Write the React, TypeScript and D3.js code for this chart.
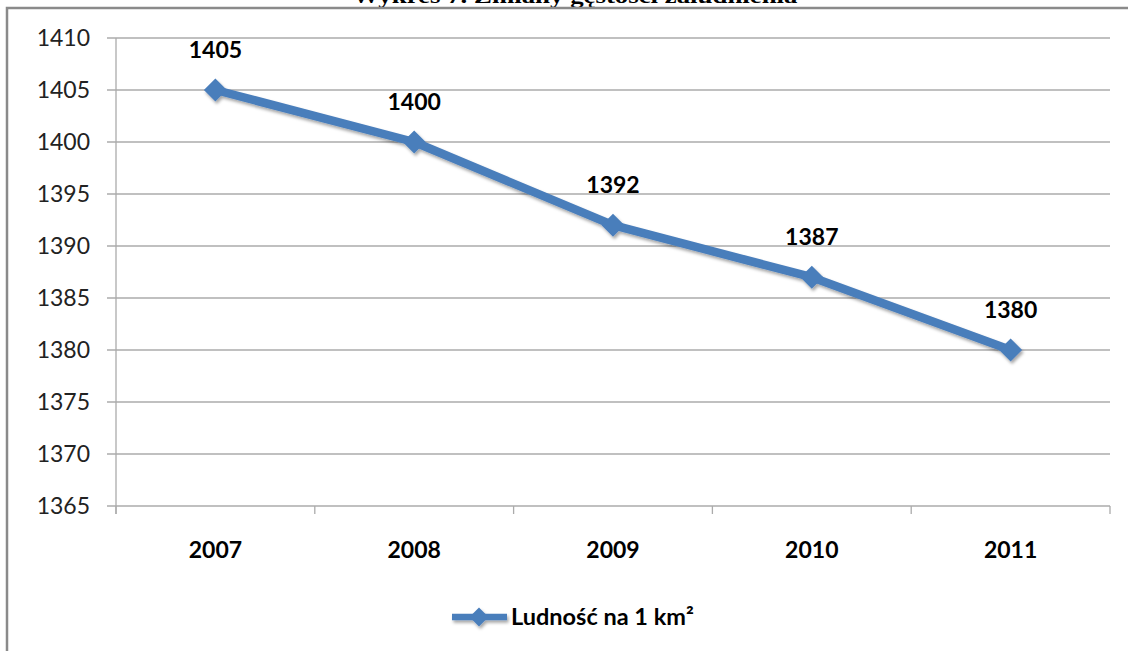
import React from "react";
import * as d3 from "d3";

const years = ["2007", "2008", "2009", "2010", "2011"];
const density = [1405, 1400, 1392, 1387, 1380];
const yTicks = [1365, 1370, 1375, 1380, 1385, 1390, 1395, 1400, 1405, 1410];
const seriesName = "Ludność na 1 km²";
const titleText = "Wykres 7. Zmiany gęstości zaludnienia";

const W = 1128;
const H = 651;
const plot = { left: 116, right: 1110, top: 38, bottom: 506 };
const FONT = "Lato, 'Open Sans', sans-serif";
const BLUE = "#4A7EBB";

export default function App() {
  const x = d3.scaleBand<string>().domain(years).range([plot.left, plot.right]).padding(0);
  const y = d3.scaleLinear().domain([1365, 1410]).range([plot.bottom, plot.top]);
  const cx = (d: string) => (x(d) as number) + x.bandwidth() / 2;
  const line = d3
    .line<number>()
    .x((_, i) => cx(years[i]))
    .y((v) => y(v));
  const boundaries = d3.range(years.length + 1).map((i) => plot.left + i * x.bandwidth());
  const diamond = (px: number, py: number, r: number) =>
    `M${px},${py - r}L${px + r},${py}L${px},${py + r}L${px - r},${py}Z`;

  return (
    <svg
      width={W}
      height={H}
      viewBox={`0 0 ${W} ${H}`}
      style={{ position: "absolute", left: 0, top: 0, background: "#fff" }}
    >
      <defs>
        <filter id="sh" x="-30%" y="-30%" width="160%" height="160%">
          <feDropShadow dx="1.5" dy="2.5" stdDeviation="1.8" floodColor="#000" floodOpacity="0.35" />
        </filter>
      </defs>
      <rect x={0} y={0} width={W} height={H} fill="#fff" />
      {/* title (cut off at top, as in the source) */}
      <text
        x={575}
        y={3}
        textAnchor="middle"
        fontFamily="'Liberation Serif', 'Times New Roman', serif"
        fontWeight="bold"
        fontSize={20}
        textLength={445}
        lengthAdjust="spacingAndGlyphs"
        fill="#000"
      >
        {titleText}
      </text>
      {/* frame */}
      <path d={`M7,${H + 5}V8H${W + 5}`} fill="none" stroke="#8a8a8a" strokeWidth={2.5} />
      {/* gridlines */}
      {yTicks.map((t) => (
        <line key={t} x1={plot.left - 9} x2={plot.right} y1={y(t)} y2={y(t)} stroke="#ababab" strokeWidth={1.3} />
      ))}
      {/* axes */}
      <line x1={plot.left} x2={plot.left} y1={plot.top} y2={plot.bottom + 8} stroke="#ababab" strokeWidth={1.3} />
      {boundaries.map((bx, i) => (
        <line key={i} x1={bx} x2={bx} y1={plot.bottom} y2={plot.bottom + 8} stroke="#ababab" strokeWidth={1.3} />
      ))}
      {yTicks.map((t) => (
        <text key={t} x={90} y={y(t) + 8} textAnchor="end" fontFamily={FONT} fontSize={23} fill="#222">
          {t}
        </text>
      ))}
      {years.map((yr) => (
        <text key={yr} x={cx(yr)} y={558} textAnchor="middle" fontFamily={FONT} fontWeight="bold" fontSize={23} fill="#000">
          {yr}
        </text>
      ))}
      {/* series */}
      <g filter="url(#sh)">
        <path d={line(density) || ""} fill="none" stroke={BLUE} strokeWidth={8.5} strokeLinejoin="round" />
        {density.map((v, i) => (
          <path key={i} d={diamond(cx(years[i]), y(v), 11.5)} fill={BLUE} />
        ))}
      </g>
      {density.map((v, i) => (
        <text key={i} x={cx(years[i])} y={y(v) - 32} textAnchor="middle" fontFamily={FONT} fontWeight="bold" fontSize={23} fill="#000">
          {v}
        </text>
      ))}
      {/* legend */}
      <g filter="url(#sh)">
        <line x1={452} x2={507} y1={617} y2={617} stroke={BLUE} strokeWidth={6.5} />
        <path d={diamond(479, 617, 9.5)} fill={BLUE} />
      </g>
      <text x={511} y={625} fontFamily={FONT} fontWeight="bold" fontSize={23.5} fill="#000">
        {seriesName}
      </text>
    </svg>
  );
}
